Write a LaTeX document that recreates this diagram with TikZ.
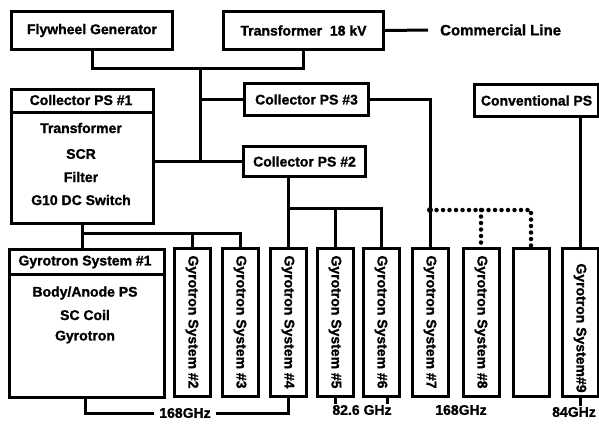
\documentclass[tikz,border=0pt]{standalone}
\usepackage{fontspec}
\setmainfont{Liberation Sans}[BoldFeatures={FakeBold=1.2}]
\usepackage{tikz}
\usetikzlibrary{calc}

\begin{document}
\begin{tikzpicture}[
    x=1pt, y=-1pt,
    font=\fontsize{14}{16}\selectfont\bfseries,
    kotak/.style={draw, line width=3pt, inner sep=0pt, align=center,
                  anchor=north west},
    sistem/.style={draw, line width=3pt, inner sep=0pt,
                   minimum width=36pt, minimum height=148pt},
    isi/.style={rotate=-90, inner sep=0pt},
    garis/.style={line width=3pt},
    titik/.style={line width=4.5pt, dash pattern=on 0pt off 6.5pt,
                  line cap=round},
    frek/.style={inner sep=1pt}
  ]
    \useasboundingbox (0,0) rectangle (599,424);
    % Baris atas: sumber daya.
    \node[kotak, minimum width=161pt, minimum height=38pt] (fly) at (10,10)
      {Flywheel Generator};
    \node[kotak, minimum width=160pt, minimum height=38pt] (trf) at (222,10)
      {Transformer\ \ 18 kV};
    \node[anchor=west, inner sep=0pt, font=\fontsize{15}{16}\selectfont\bfseries]
      (line) at (440,30) {Commercial Line};
    \draw[garis] (trf.east) -- ($(line.west)+(-12,0)$);
    \coordinate (bus) at (200,68);
    \draw[garis] (fly.south) |- (bus) -| (trf.south);
    % Kolektor.
    \node[kotak, minimum width=142pt, minimum height=134pt] (ps1) at (10,88) {};
    \draw[line width=3pt] (10,112) -- (152,112);
    \node at (81,100) {Collector PS \#1};
    \node at (81,128) {Transformer};
    \node at (81,154) {SCR};
    \node at (81,177) {Filter};
    \node at (81,200) {G10 DC Switch};
    \node[kotak, minimum width=124pt, minimum height=32pt] (ps3) at (243,82)
      {Collector PS \#3};
    \node[kotak, minimum width=122pt, minimum height=30pt] (ps2) at (242,145)
      {Collector PS \#2};
    \node[kotak, minimum width=124pt, minimum height=32pt] (conv) at (473,83)
      {Conventional PS};
    \draw[garis] (bus) -- (bus |- ps2.west);
    \draw[garis] (bus |- ps3.west) -- (ps3.west);
    \draw[garis] (ps1.east |- ps2.west) -- (ps2.west);
    % Sistem gyrotron.
    \node[kotak, minimum width=155pt, minimum height=148pt] (g1) at (8,248) {};
    \draw[line width=3pt] (8,274) -- (163,274);
    \node at (85,262) {Gyrotron System \#1};
    \node at (85,293) {Body/Anode PS};
    \node at (85,315) {SC Coil};
    \node at (85,337) {Gyrotron};
    \node[sistem] (g2) at (192,322) {};
    \node[sistem] (g3) at (240,322) {};
    \node[sistem] (g4) at (288,322) {};
    \node[sistem] (g5) at (335,322) {};
    \node[sistem] (g6) at (381,322) {};
    \node[sistem] (g7) at (430,322) {};
    \node[sistem] (g8) at (481,322) {};
    \node[sistem] (kosong) at (531,322) {};
    \node[sistem] (g9) at (580,322) {};
    \node[isi] at (g2) {Gyrotron System \#2};
    \node[isi] at (g3) {Gyrotron System \#3};
    \node[isi] at (g4) {Gyrotron System \#4};
    \node[isi] at (g5) {Gyrotron System \#5};
    \node[isi] at (g6) {Gyrotron System \#6};
    \node[isi] at (g7) {Gyrotron System \#7};
    \node[isi] at (g8) {Gyrotron System \#8};
    \node[isi] at ($(g9)+(0,6)$) {Gyrotron System\#9};
    % Sambungan ke sistem.
    \coordinate (b1) at (0,233);
    \coordinate (b2) at (0,208);
    \coordinate (b3) at (0,210);
    \draw[garis] (ps1.south) -- (ps1.south |- g1.north);
    \draw[garis] (ps1.south |- b1) -| (g3.north);
    \draw[garis] (g2.north |- b1) -- (g2.north);
    \draw[garis] (ps2.south -| g4.north) -- (g4.north);
    \draw[garis] (g4.north |- b2) -| (g6.north);
    \draw[garis] (g5.north |- b2) -- (g5.north);
    \draw[garis] (ps3.east) -| (g7.north);
    \draw[titik] (g7.north |- b3) -| (kosong.north);
    \draw[titik] (g8.north |- b3) -- (g8.north);
    \fill (g7.north |- b3) circle (3pt);
    \draw[garis] (conv.south -| g9.north) -- (g9.north);
    % Frekuensi.
    \node[frek] (f1) at (185,413) {168GHz};
    \node[frek] (f2) at (362,410) {82.6 GHz};
    \node[frek] (f3) at (461,410) {168GHz};
    \node[frek] (f4) at (574,412) {84GHz};
    \draw[garis] (g1.south -| 85,0) |- ($(f1.west)+(-4,0)$);
    \draw[garis] ($(f1.east)+(4,0)$) -| (g4.south);
    \draw[garis] (g5.south) -- (g5.south |- f2.north);
    \draw[garis] ($(g6.south)+(6,0)$) -- ($(g6.south |- f2.north)+(6,0)$);
    \draw[garis] (g9.south) -- (g9.south |- f4.north);
  \end{tikzpicture}
\end{document}
